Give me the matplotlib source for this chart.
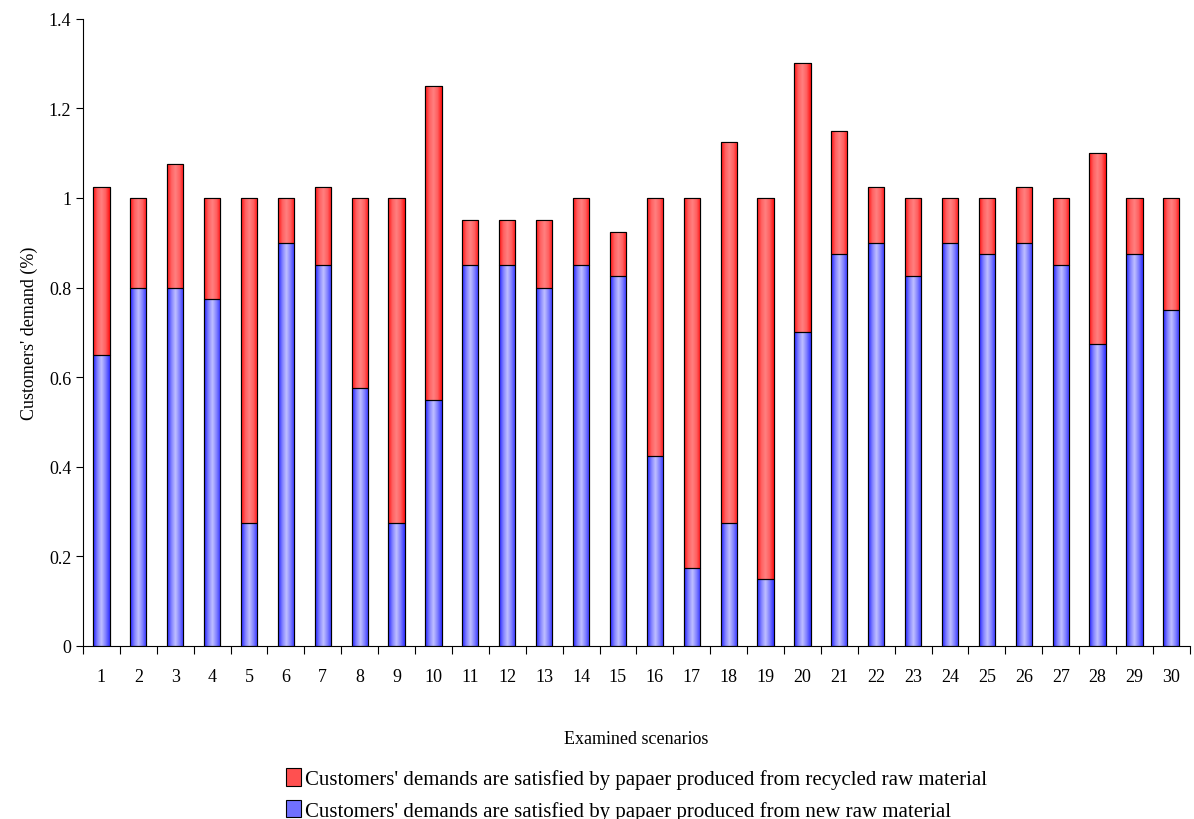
import numpy as np
import matplotlib.pyplot as plt
from matplotlib.colors import LinearSegmentedColormap

plt.rcParams['font.family'] = ['Liberation Serif', 'DejaVu Serif']

# scenario numbers and the share of demand covered by each raw material
scenarios = list(range(1, 31))
new_raw = [0.65, 0.8, 0.8, 0.775, 0.275, 0.9, 0.85, 0.575, 0.275, 0.55,
           0.85, 0.85, 0.8, 0.85, 0.825, 0.425, 0.175, 0.275, 0.15, 0.7,
           0.875, 0.9, 0.825, 0.9, 0.875, 0.9, 0.85, 0.675, 0.875, 0.75]
total = [1.025, 1.0, 1.075, 1.0, 1.0, 1.0, 1.025, 1.0, 1.0, 1.25,
         0.95, 0.95, 0.95, 1.0, 0.925, 1.0, 1.0, 1.125, 1.0, 1.3,
         1.15, 1.025, 1.0, 1.0, 1.0, 1.025, 1.0, 1.1, 1.0, 1.0]
recycled = [t - n for t, n in zip(total, new_raw)]

label_recycled = "Customers' demands are satisfied by papaer produced from recycled raw material"
label_new = "Customers' demands are satisfied by papaer produced from new raw material"

fig = plt.figure(figsize=(11.94, 8.2), dpi=100)
ax = fig.add_axes([0.0695, 0.211, 0.927, 0.765])

x = np.arange(len(scenarios))
width = 0.44
blue_bars = ax.bar(x, new_raw, width, color='#7070ff', edgecolor='black', linewidth=0.8,
                   label=label_new, zorder=2)
red_bars = ax.bar(x, recycled, width, bottom=new_raw, color='#ff5050', edgecolor='black',
                  linewidth=0.8, label=label_recycled, zorder=2)

# horizontal shading: dark at the sides, light in the middle
blue_cmap = LinearSegmentedColormap.from_list('b', ['#2020ff', '#8080ff', '#c0c0ff', '#8080ff', '#3030ff'])
red_cmap = LinearSegmentedColormap.from_list('r', ['#ff1010', '#ff6060', '#ff8080', '#ff6060', '#ff1010'])
grad = np.linspace(0, 1, 64).reshape(1, -1)
for bars, cmap in [(blue_bars, blue_cmap), (red_bars, red_cmap)]:
    for p in bars:
        x0, y0 = p.get_x(), p.get_y()
        w, h = p.get_width(), p.get_height()
        im = ax.imshow(grad, cmap=cmap, aspect='auto', extent=[x0, x0 + w, y0, y0 + h],
                       zorder=2.5, interpolation='bilinear')
        im.set_clip_path(p)
        edge = plt.Rectangle((x0, y0), w, h, fill=False, edgecolor='black', linewidth=0.8, zorder=3)
        ax.add_patch(edge)

ax.set_xlim(-0.5, len(scenarios) - 0.5)
ax.set_ylim(0, 1.4)
ax.set_yticks(np.arange(0, 1.41, 0.2))
ax.set_yticklabels(['0', '0.2', '0.4', '0.6', '0.8', '1', '1.2', '1.4'])
ax.set_xticks(x)
ax.set_xticklabels([str(s) for s in scenarios])
ax.set_xticks(np.arange(-0.5, len(scenarios), 1), minor=True)
ax.tick_params(axis='x', which='major', length=0, labelsize=13, pad=16)
ax.tick_params(axis='x', which='minor', length=6, direction='out', width=0.8)
ax.tick_params(axis='y', length=5, direction='out', labelsize=13, width=0.8)
ax.spines['top'].set_visible(False)
ax.spines['right'].set_visible(False)

ax.set_ylabel("Customers' demand (%)", fontsize=13, labelpad=8)
ax.set_xlabel('Examined scenarios', fontsize=13, labelpad=32)

handles = [red_bars, blue_bars]
ax.legend(handles, [label_recycled, label_new], loc='upper center',
          bbox_to_anchor=(0.5, -0.172), frameon=False, fontsize=15,
          handlelength=0.7, handleheight=0.9, handletextpad=0.2, labelspacing=0.5,
          borderpad=0.2)

fig.savefig('out.png', dpi=100)
